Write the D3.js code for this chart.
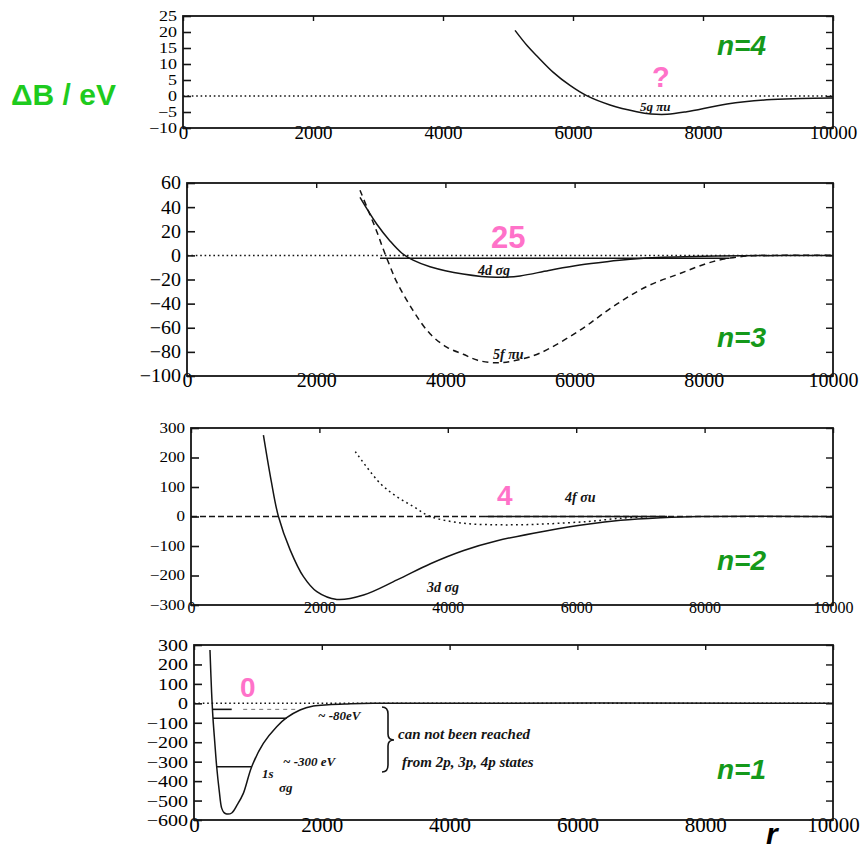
<!DOCTYPE html>
<html>
<head>
<meta charset="utf-8">
<script src="https://cdn.jsdelivr.net/npm/d3@7"></script>
<style>
  body { margin: 0; background: #fff; }
  svg { display: block; }
</style>
</head>
<body>
<svg id="chart" width="861" height="852"></svg>
<script>
// Binding-energy change ΔB (eV) versus internuclear distance r, one panel per shell n.

// n = 4
const rN4 = [5108, 5300, 5441, 5697, 5954, 6210, 6569, 6980, 7200, 7450, 7750, 8370, 8980, 9500, 10000];
const bN4 = [20.5, 15.6, 12.6, 7.4, 3.3, 0.1, -2.8, -4.9, -5.6, -5.7, -4.9, -2.5, -1.2, -0.8, -0.6];

// n = 3 : 4dσg (solid) and 5fπu (dashed)
const rN3d = [2678, 2936, 3142, 3323, 3500, 3762, 4272, 4795, 5155, 5600, 6080, 6500, 6860, 7370, 8000, 8600, 10000];
const bN3d = [48, 26, 12, 2, -4, -9.4, -15.4, -18.2, -17, -12.5, -8, -5.2, -3.3, -1.6, -0.8, -0.3, 0];
const rN3f = [2678, 2800, 2936, 3039, 3150, 3246, 3503, 3762, 4020, 4277, 4500, 4794, 5100, 5464, 6084, 6594, 7110, 7632, 8142, 8664, 9100, 10000];
const bN3f = [54, 38, 20, 5, -10, -22, -46, -65, -76, -82, -87, -89, -87, -81, -62, -42.5, -26, -15, -5.2, -0.5, 0, 0];

// n = 2 : 3dσg (solid) and 4fσu (dotted)
const rN2d = [1128, 1250, 1362, 1544, 1752, 1960, 2272, 2688, 3209, 3729, 4248, 4768, 5548, 6173, 6693, 7317, 7900, 10000];
const bN2d = [276, 120, 0, -113, -204, -255, -281, -266, -215, -160, -115, -82, -48, -26, -13, -4.5, 0, 0];
const rN2f = [2559, 2948, 3209, 3469, 3729, 4248, 4768, 5133, 5548, 6173, 6693, 7100];
const bN2f = [220, 112, 67, 33, 0, -23, -28, -28, -25, -17, -6, -1];

// n = 1 : 1sσg
const rN1 = [250, 275, 297, 325, 355, 395, 433, 470, 512, 590, 680, 772, 903, 1085, 1294, 1451, 1659, 1867, 2100, 2400, 2800, 10000];
const bN1 = [274, 60, -76, -200, -326, -450, -539, -562, -569, -564, -520, -463, -326, -206, -120, -74, -34, -14, -7, -3, 0, 0];

// Bound levels drawn inside the wells: value, start r, end r
const levelB  = [-2.4, 0, -31, -77, -326];
const levelR0 = [2988, 4580, 297, 297, 355];
const levelR1 = [8400, 7414, 590, 1451, 903];
// faint continuation of the shallowest n=1 level
const faintB = -31, faintR0 = 770, faintR1 = 1610;

// Axis ticks and labels
const xTicks   = [0, 2000, 4000, 6000, 8000, 10000];
const yTicksN4 = [-10, -5, 0, 5, 10, 15, 20, 25];
const yTicksN3 = [-100, -80, -60, -40, -20, 0, 20, 40, 60];
const yTicksN2 = [-300, -200, -100, 0, 100, 200, 300];
const yTicksN1 = [-600, -500, -400, -300, -200, -100, 0, 100, 200, 300];
const panelNames = ["n=4", "n=3", "n=2", "n=1"];
const markers = ["?", "25", "4", "0"];

const INK = "#141414";
const svg = d3.select("#chart");
svg.append("rect").attr("width", 861).attr("height", 852).attr("fill", "#fff");

const panels = [
  { left: 183, right: 833, top: 16,  bottom: 128, domain: [-10, 25],   ticks: yTicksN4, yFont: 18, ySq: 0.8,  xFont: 19,
    zero: "1.6,2.8",
    series: [{ r: rN4, b: bN4, dash: null }],
    levels: [], name: panelNames[0], nameY: 55, marker: markers[0], mx: 652, my: 87, mFont: 29 },
  { left: 187, right: 833, top: 183, bottom: 376, domain: [-100, 60],  ticks: yTicksN3, yFont: 20, ySq: 0.92, xFont: 20,
    zero: "1.6,2.8",
    series: [{ r: rN3d, b: bN3d, dash: null }, { r: rN3f, b: bN3f, dash: "6,4.5" }],
    levels: [0], name: panelNames[1], nameY: 347, marker: markers[1], mx: 491, my: 248, mFont: 31 },
  { left: 191, right: 833, top: 428, bottom: 605, domain: [-300, 300], ticks: yTicksN2, yFont: 17, ySq: 0.8,  xFont: 16,
    zero: "6,3",
    series: [{ r: rN2d, b: bN2d, dash: null }, { r: rN2f, b: bN2f, dash: "1.8,3.4" }],
    levels: [1], name: panelNames[2], nameY: 570, marker: markers[2], mx: 497, my: 505, mFont: 28 },
  { left: 194, right: 833, top: 645, bottom: 820, domain: [-600, 300], ticks: yTicksN1, yFont: 20, ySq: 0.85, xFont: 21,
    zero: "1.6,2.8",
    series: [{ r: rN1, b: bN1, dash: null }],
    levels: [2, 3, 4], faint: true, name: panelNames[3], nameY: 779, marker: markers[3], mx: 240, my: 697, mFont: 28 }
];

panels.forEach(p => {
  const x = d3.scaleLinear().domain([0, 10000]).range([p.left, p.right]);
  const y = d3.scaleLinear().domain(p.domain).range([p.bottom, p.top]);
  const g = svg.append("g");

  // left axis with inward ticks
  const ya = g.append("g").attr("transform", `translate(${p.left},0)`)
    .call(d3.axisLeft(y).tickValues(p.ticks).tickSizeInner(-8).tickSizeOuter(0).tickPadding(6));
  ya.select(".domain").remove();
  ya.selectAll("line").attr("stroke", INK).attr("stroke-width", 1.6);
  ya.selectAll("text").attr("fill", "#000").attr("font-family", "Liberation Serif")
    .attr("font-size", p.yFont).attr("transform", `scale(1,${p.ySq})`);

  // right axis ticks
  const yr = g.append("g").attr("transform", `translate(${p.right},0)`)
    .call(d3.axisRight(y).tickValues(p.ticks).tickSizeInner(-7).tickSizeOuter(0).tickFormat(""));
  yr.select(".domain").remove();
  yr.selectAll("line").attr("stroke", INK).attr("stroke-width", 1.4);

  // top ticks
  const xt = g.append("g").attr("transform", `translate(0,${p.top})`)
    .call(d3.axisTop(x).tickValues(xTicks).tickSizeInner(-5).tickSizeOuter(0).tickFormat(""));
  xt.select(".domain").remove();
  xt.selectAll("line").attr("stroke", INK).attr("stroke-width", 1.4);

  // bottom labels, sitting on the axis line
  const xb = g.append("g").attr("transform", `translate(0,${p.bottom})`)
    .call(d3.axisBottom(x).tickValues(xTicks).tickSize(0).tickPadding(-3).tickFormat(d3.format("d")));
  xb.select(".domain").remove();
  xb.selectAll("text").attr("fill", "#000").attr("font-family", "Liberation Serif").attr("font-size", p.xFont);

  // frame
  g.append("rect").attr("x", p.left).attr("y", p.top)
    .attr("width", p.right - p.left).attr("height", p.bottom - p.top)
    .attr("fill", "none").attr("stroke", INK).attr("stroke-width", 1.8);

  // zero line
  g.append("line").attr("x1", x(0)).attr("x2", x(10000)).attr("y1", y(0)).attr("y2", y(0))
    .attr("stroke", INK).attr("stroke-width", 1.5).attr("stroke-dasharray", p.zero);

  // bound levels
  p.levels.forEach(k => {
    g.append("line").attr("x1", x(levelR0[k])).attr("x2", x(levelR1[k]))
      .attr("y1", y(levelB[k])).attr("y2", y(levelB[k]))
      .attr("stroke", INK).attr("stroke-width", 1.6);
  });
  if (p.faint) {
    g.append("line").attr("x1", x(faintR0)).attr("x2", x(faintR1))
      .attr("y1", y(faintB)).attr("y2", y(faintB))
      .attr("stroke", "#777").attr("stroke-width", 1).attr("stroke-dasharray", "4,4");
  }

  // potential curves
  const line = d3.line().x(d => x(d[0])).y(d => y(d[1])).curve(d3.curveCatmullRom.alpha(0.5));
  p.series.forEach(s => {
    g.append("path").datum(d3.zip(s.r, s.b)).attr("d", line)
      .attr("fill", "none").attr("stroke", INK).attr("stroke-width", 1.5)
      .attr("stroke-dasharray", s.dash);
  });

  // shell label and count marker
  g.append("text").attr("x", 717).attr("y", p.nameY).text(p.name)
    .attr("font-family", "Liberation Sans").attr("font-weight", "bold").attr("font-style", "italic")
    .attr("font-size", 28).attr("fill", "#15991a");
  g.append("text").attr("x", p.mx).attr("y", p.my).text(p.marker)
    .attr("font-family", "Liberation Sans").attr("font-weight", "bold")
    .attr("font-size", p.mFont).attr("fill", "#ff72c9");
});

// handwritten state labels
const note = (tx, ty, str, size) => svg.append("text").attr("x", tx).attr("y", ty).text(str)
  .attr("font-family", "Liberation Serif").attr("font-style", "italic").attr("font-weight", "bold")
  .attr("font-size", size || 14).attr("fill", INK);

note(640, 111, "5g πu", 13);
note(478, 275, "4d σg");
note(493, 359, "5f πu");
note(565, 502, "4f σu");
note(427, 592, "3d σg");
note(318, 720, "~ -80eV", 13);
note(262, 778, "1s", 13);
note(279, 792, "σg", 13);
note(283, 766, "~ -300 eV", 13);
note(398, 739, "can not been reached", 15);
note(402, 767, "from  2p, 3p, 4p  states", 15);

// brace joining the two deep levels to the note
const br = d3.path();
br.moveTo(382, 707); br.quadraticCurveTo(388, 707, 388, 714); br.lineTo(388, 734);
br.quadraticCurveTo(388, 740, 394, 740); br.quadraticCurveTo(388, 740, 388, 746);
br.lineTo(388, 765); br.quadraticCurveTo(388, 772, 382, 772);
svg.append("path").attr("d", br.toString()).attr("fill", "none").attr("stroke", INK).attr("stroke-width", 1.6);

// axis titles
svg.append("text").attr("x", 11).attr("y", 105).text("ΔB / eV")
  .attr("font-family", "Liberation Sans").attr("font-weight", "bold")
  .attr("font-size", 30).attr("fill", "#1ecb1e");
svg.append("text").attr("x", 766).attr("y", 844).text("r")
  .attr("font-family", "Liberation Sans").attr("font-weight", "bold").attr("font-style", "italic")
  .attr("font-size", 30).attr("fill", "#000");
</script>
</body>
</html>
